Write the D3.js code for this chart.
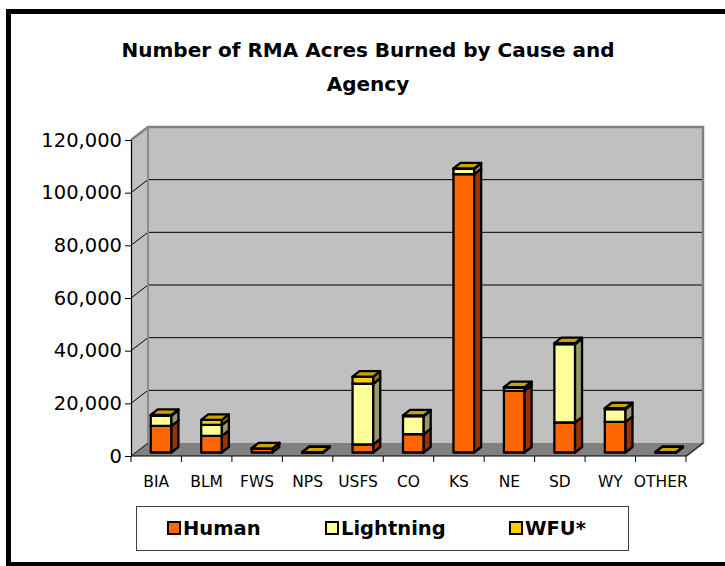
<!DOCTYPE html>
<html>
<head>
<meta charset="utf-8">
<script src="https://cdn.jsdelivr.net/npm/d3@7"></script>
<style>
  body { margin: 0; background: #fff; }
  svg { display: block; }
  .comic { font-family: "Comic Sans MS", "DejaVu Sans", sans-serif; }
</style>
</head>
<body>
<div id="chart"></div>
<script>
// agencies / states on the x axis
const categories = ["BIA", "BLM", "FWS", "NPS", "USFS", "CO", "KS", "NE", "SD", "WY", "OTHER"];
// acres burned
const human = [10100, 6300, 1500, 0, 3100, 7000, 105700, 23400, 11400, 11600, 0];
const lightning = [3900, 4200, 0, 0, 23000, 6800, 2000, 1200, 29800, 4900, 0];
const wfu = [300, 1900, 100, 100, 2700, 300, 200, 200, 300, 300, 100];
const seriesNames = ["Human", "Lightning", "WFU*"];
const yTicks = [0, 20000, 40000, 60000, 80000, 100000, 120000];

const width = 725;
const height = 566;

// colours: front, side, top
const colors = [
  { front: "#FF6600", side: "#993300", top: "#CC5200" },
  { front: "#FFFF99", side: "#999966", top: "#CCCC7A" },
  { front: "#FFCC00", side: "#997A00", top: "#CCA300" }
];

const svg = d3.select("#chart").append("svg")
  .attr("width", width)
  .attr("height", height);

// 外枠
svg.append("rect")
  .attr("x", 8.5).attr("y", 11.5)
  .attr("width", 740).attr("height", 553)
  .attr("fill", "#fff")
  .attr("stroke", "#000")
  .attr("stroke-width", 5);

// title
const title = svg.append("text")
  .attr("class", "comic")
  .attr("text-anchor", "middle")
  .attr("font-size", 20)
  .attr("font-weight", "bold")
  .attr("fill", "#000");
title.append("tspan").attr("x", 368).attr("y", 57).text("Number of RMA Acres Burned by Cause and");
title.append("tspan").attr("x", 368).attr("y", 91).text("Agency");

// scales (front plane)
const left = 131, right = 686;
const x = d3.scaleBand().domain(categories).range([left, right]);
const y = d3.scaleLinear().domain([0, 120000]).range([456, 140]);

// depth of the floor
const dx = 17, dy = -13;

// walls and floor
svg.append("polygon")
  .attr("points", [[left, y(0)], [left + dx, y(0) + dy], [right + dx, y(0) + dy], [right, y(0)]].join(" "))
  .attr("fill", "#808080");
svg.append("polygon")
  .attr("points", [[left, y(120000)], [left + dx, y(120000) + dy], [left + dx, y(0) + dy], [left, y(0)]].join(" "))
  .attr("fill", "#C0C0C0");
svg.append("rect")
  .attr("x", left + dx).attr("y", y(120000) + dy)
  .attr("width", right - left).attr("height", y(0) - y(120000))
  .attr("fill", "#C0C0C0");

// gridlines on back wall + side wall
const grid = svg.append("g");
grid.selectAll("line.back")
  .data(yTicks.filter(d => d > 0 && d < 120000))
  .enter().append("line")
  .attr("x1", left + dx).attr("x2", right + dx)
  .attr("y1", d => y(d) + dy).attr("y2", d => y(d) + dy)
  .attr("stroke", "#000").attr("stroke-width", 1);
grid.selectAll("line.side")
  .data(yTicks.filter(d => d < 120000))
  .enter().append("line")
  .attr("x1", left).attr("x2", left + dx)
  .attr("y1", d => y(d)).attr("y2", d => y(d) + dy)
  .attr("stroke", "#000").attr("stroke-width", 1);

// wall edges
svg.append("path")
  .attr("d", "M" + left + "," + y(120000) + "L" + (left + dx) + "," + (y(120000) + dy) +
    "L" + (right + dx) + "," + (y(120000) + dy) + "L" + (right + dx) + "," + (y(0) + dy) +
    "L" + right + "," + y(0))
  .attr("fill", "none").attr("stroke", "#808080").attr("stroke-width", 2.5);
svg.append("line")
  .attr("x1", left + dx).attr("x2", left + dx)
  .attr("y1", y(120000) + dy).attr("y2", y(0) + dy)
  .attr("stroke", "#8a8a8a").attr("stroke-width", 2);
svg.append("line")
  .attr("x1", right).attr("x2", right + dx)
  .attr("y1", y(0)).attr("y2", y(0) + dy)
  .attr("stroke", "#000").attr("stroke-width", 1);

// bars
const bdx = 7, bdy = -5.5;       // bar depth
const ox = 4.6, oy = -3.5;        // bar set back from the front plane
const barW = x.bandwidth() * 0.41;
const stacks = [human, lightning, wfu];

const bars = svg.append("g");
categories.forEach(function (cat, i) {
  let base = 0;
  const x0 = x(cat) + x.bandwidth() * 0.3 + ox;
  stacks.forEach(function (series, s) {
    const v = series[i];
    const yb = y(base) + oy;
    const yt = y(base + v) + oy;
    const c = colors[s];
    const g = bars.append("g")
      .attr("stroke", "#000").attr("stroke-width", 2.3).attr("stroke-linejoin", "round");
    // front
    g.append("rect")
      .attr("x", x0).attr("y", yt)
      .attr("width", barW).attr("height", Math.max(0, yb - yt))
      .attr("fill", c.front);
    // side
    g.append("polygon")
      .attr("points", [[x0 + barW, yt], [x0 + barW + bdx, yt + bdy], [x0 + barW + bdx, yb + bdy], [x0 + barW, yb]].join(" "))
      .attr("fill", c.side);
    // top
    g.append("polygon")
      .attr("points", [[x0, yt], [x0 + bdx, yt + bdy], [x0 + barW + bdx, yt + bdy], [x0 + barW, yt]].join(" "))
      .attr("fill", c.top);
    base += v;
  });
});

// y axis
const yAxis = svg.append("g")
  .attr("transform", "translate(" + left + ",0)")
  .call(d3.axisLeft(y).tickValues(yTicks).tickFormat(d3.format(",")).tickSize(6).tickPadding(3));
yAxis.select(".domain").attr("stroke", "#000").attr("stroke-width", 1.2);
yAxis.selectAll(".tick line").attr("stroke", "#000");
yAxis.selectAll(".tick text")
  .attr("font-family", "'DejaVu Sans', Verdana, sans-serif")
  .attr("font-size", 19.5)
  .attr("fill", "#000");

// x axis: ticks on category boundaries
const xAxisG = svg.append("g");
xAxisG.append("line")
  .attr("x1", left).attr("x2", right)
  .attr("y1", y(0)).attr("y2", y(0))
  .attr("stroke", "#000").attr("stroke-width", 1.2);
const bounds = categories.map(c => x(c)).concat([right]);
xAxisG.selectAll("line.tk")
  .data(bounds)
  .enter().append("line")
  .attr("x1", d => d).attr("x2", d => d)
  .attr("y1", y(0)).attr("y2", y(0) + 6)
  .attr("stroke", "#000");
xAxisG.selectAll("text")
  .data(categories)
  .enter().append("text")
  .attr("class", "comic")
  .attr("x", d => x(d) + x.bandwidth() / 2)
  .attr("y", 487)
  .attr("text-anchor", "middle")
  .attr("font-size", 15.5)
  .attr("fill", "#000")
  .text(d => d);

// legend
const legend = svg.append("g");
legend.append("rect")
  .attr("x", 136.5).attr("y", 506.5)
  .attr("width", 492).attr("height", 44)
  .attr("fill", "#fff").attr("stroke", "#404040").attr("stroke-width", 1);
const legendX = [168, 326, 510];
seriesNames.forEach(function (name, s) {
  legend.append("rect")
    .attr("x", legendX[s]).attr("y", 522)
    .attr("width", 12).attr("height", 12)
    .attr("fill", colors[s].front)
    .attr("stroke", "#000").attr("stroke-width", 2);
  legend.append("text")
    .attr("class", "comic")
    .attr("x", legendX[s] + 15).attr("y", 535)
    .attr("font-size", 19.5)
    .attr("font-weight", "bold")
    .attr("fill", "#000")
    .text(name);
});
</script>
</body>
</html>
